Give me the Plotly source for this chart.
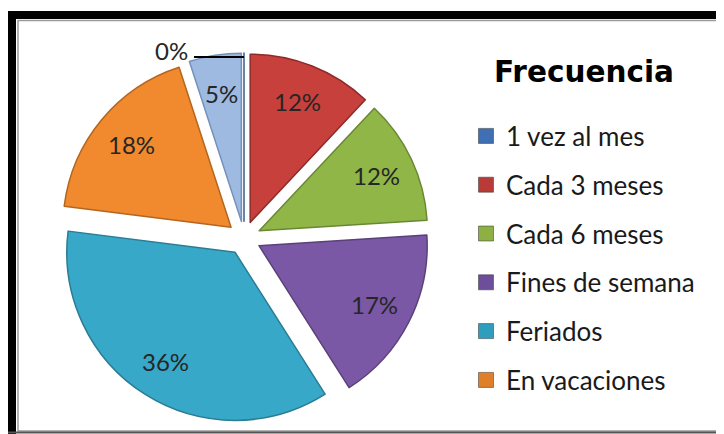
import math
import plotly.graph_objects as go

# data (percent of answers)
categories = ["1 vez al mes", "Cada 3 meses", "Cada 6 meses", "Fines de semana",
              "Feriados", "En vacaciones", "Otros"]
shares = [0, 12, 12, 17, 36, 18, 5]
legend_items = categories[:6]   # the 7th entry is cut off in the original legend

slice_colors = ["#4F81BD", "#C8403C", "#90B648", "#7B58A6", "#38A8C8", "#F18A2E", "#9EBAE0"]
edge_colors = ["#385D8A", "#8C2B29", "#6A8735", "#5A4178", "#2A7C93", "#B5651D", "#7391BC"]
legend_colors = ["#3F6FB5", "#B83B38", "#8CB043", "#6D4E9A", "#2F9DBD", "#E07F2A"]

W, H = 724, 434
PAGE_MARGIN = 8   # the html body margin shifts the figure on the page
pie_cx, pie_cy, pie_box = 244, 238, 370   # page-pixel centre and size of the pie domain
pull = 0.1


def px(x):
    return (x - PAGE_MARGIN) / W


def py(y):
    return 1 - (y - PAGE_MARGIN) / H


fig = go.Figure()

fig.add_trace(go.Pie(
    labels=categories, values=shares, sort=False, direction="clockwise",
    pull=pull, showlegend=False, textinfo="none",
    marker=dict(colors=slice_colors, line=dict(color=edge_colors, width=1.5)),
    domain=dict(x=[px(pie_cx - pie_box / 2), px(pie_cx + pie_box / 2)],
                y=[py(pie_cy + pie_box / 2), py(pie_cy - pie_box / 2)]),
    hovertemplate="%{label}: %{value}%<extra></extra>",
))

# legend built from marker-only traces, so the hidden 7th category stays out of it
for i, (name, col) in enumerate(zip(legend_items, legend_colors)):
    fig.add_trace(go.Scatter(
        x=[None], y=[None], mode="markers", name=name, legendgroup=str(i),
        marker=dict(symbol="square", size=15, color=col,
                    line=dict(color="#333333", width=0.5)),
    ))

# percentage labels, set like Excel's: along each slice's mid-angle, ~0.77 r out
label_font = dict(family="Lato", size=24, color="#262626")
radius = pie_box / 2 / (1 + pull)
annotations = []
total = sum(shares)
start = 0
for v in shares:
    mid = (start + v / 2) / total * 2 * math.pi
    start += v
    if v == 0:
        continue
    dist = radius * (pull + 0.77)
    annotations.append(dict(text=f"{v}%", x=px(pie_cx + dist * math.sin(mid)),
                            y=py(pie_cy - dist * math.cos(mid)),
                            xref="paper", yref="paper", xanchor="center", yanchor="middle",
                            showarrow=False, font=label_font))

# the 0% label sits outside, with a short leader line
annotations.append(dict(text=f"{shares[0]}%", x=px(171), y=py(50), xref="paper", yref="paper",
                        xanchor="center", yanchor="middle", showarrow=False, font=label_font))

fig.update_layout(
    width=W, height=H, margin=dict(l=0, r=0, t=0, b=0),
    paper_bgcolor="white", plot_bgcolor="white",
    xaxis=dict(visible=False), yaxis=dict(visible=False),
    title=dict(text="<b>Frecuencia</b>", x=px(584), xanchor="center",
               y=py(72), yanchor="middle",
               font=dict(family="DejaVu Sans", size=29.5, color="#000000")),
    legend=dict(x=px(466), xanchor="left", y=py(112.5), yanchor="top",
                font=dict(family="Lato", size=26, color="#1a1a1a"),
                tracegroupgap=12, traceorder="grouped",
                bgcolor="rgba(0,0,0,0)"),
    annotations=annotations,
    shapes=[
        dict(type="rect", xref="paper", yref="paper",
             x0=px(12), y0=py(450), x1=px(760), y1=py(15),
             line=dict(color="black", width=8), fillcolor="rgba(0,0,0,0)"),
        dict(type="rect", xref="paper", yref="paper",
             x0=px(18), y0=py(431), x1=px(760), y1=py(20.5),
             line=dict(color="#9a9a9a", width=1.5), fillcolor="rgba(0,0,0,0)"),
        dict(type="line", xref="paper", yref="paper",
             x0=px(0), y0=py(432.5), x1=px(760), y1=py(432.5),
             line=dict(color="#555555", width=2)),
        dict(type="line", xref="paper", yref="paper",
             x0=px(194), y0=py(57), x1=px(pie_cx), y1=py(57),
             line=dict(color="black", width=2)),
    ],
)

fig.write_html("out.html")
